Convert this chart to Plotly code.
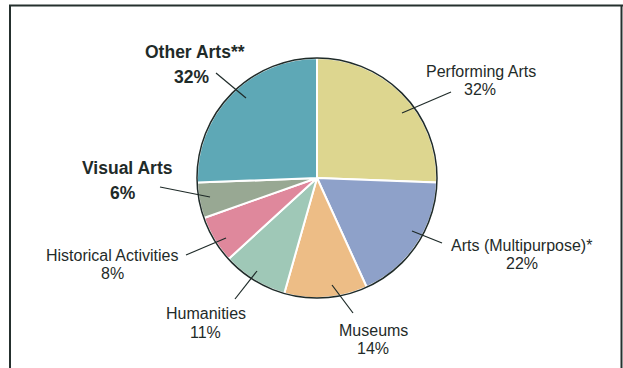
import plotly.graph_objects as go

# Funding share by discipline (percent labels as published)
categories = ["Performing Arts", "Arts (Multipurpose)*", "Museums", "Humanities",
              "Historical Activities", "Visual Arts", "Other Arts**"]
values = [32, 22, 14, 11, 8, 6, 32]
colors = ["#DDD68F", "#8EA1C9", "#EDBD86", "#9FC8B7", "#DF889C", "#98A893", "#5EA8B6"]
bold = [False, False, False, False, False, True, True]

W, H = 623, 368
CX, CY, R = 317, 178, 120
INK = "#1f2b29"


def px(x):
    return x / W


def py(y):
    return 1 - y / H


fig = go.Figure(go.Pie(
    labels=categories,
    values=values,
    sort=False,
    direction="clockwise",
    rotation=0,
    textinfo="none",
    hoverinfo="label+value",
    marker=dict(colors=colors, line=dict(color="white", width=2)),
    domain=dict(x=[px(CX - R), px(CX + R)], y=[py(CY + R), py(CY - R)]),
    showlegend=False,
))

shapes = [
    # outline of the pie
    dict(type="circle", xref="paper", yref="paper",
         x0=px(CX - R), x1=px(CX + R), y0=py(CY + R), y1=py(CY - R),
         line=dict(color=INK, width=1.5), layer="above"),
    # panel frame
    dict(type="line", xref="paper", yref="paper", x0=px(9), x1=px(623), y0=py(5.5), y1=py(5.5),
         line=dict(color="#25302e", width=2)),
    dict(type="line", xref="paper", yref="paper", x0=px(10), x1=px(10), y0=py(5), y1=py(368),
         line=dict(color="#25302e", width=2)),
    dict(type="line", xref="paper", yref="paper", x0=px(621.5), x1=px(621.5), y0=py(5), y1=py(368),
         line=dict(color="#25302e", width=2)),
]

# label placement: (name x, name y, pct x, pct y, leader outer, leader inner)
label_layout = [
    (481, 71, 480, 89, (451, 92), (402, 113)),
    (521, 245, 522, 263, (442, 243), (412, 231)),
    (373, 330, 373, 348, (353, 313), (332, 285)),
    (206, 313, 205, 332, (235, 299), (257, 271)),
    (112, 255, 112, 273, (186, 255), (226, 238)),
    (127, 168, 123, 193, (160, 187), (210, 197)),
    (195, 52, 191, 77, (216, 73), (246, 98)),
]

annotations = []
fam = "Liberation Sans Narrow, Arial Narrow, sans-serif"
for name, val, b, (nx, ny, vx, vy, p0, p1) in zip(categories, values, bold, label_layout):
    t_name = f"<b>{name}</b>" if b else name
    t_val = f"<b>{val}%</b>" if b else f"{val}%"
    size = 17.5 if b else 16
    annotations.append(dict(x=px(nx), y=py(ny), xref="paper", yref="paper", text=t_name,
                            showarrow=False, xanchor="center", yanchor="middle",
                            font=dict(family=fam, size=size, color=INK)))
    annotations.append(dict(x=px(vx), y=py(vy), xref="paper", yref="paper", text=t_val,
                            showarrow=False, xanchor="center", yanchor="middle",
                            font=dict(family=fam, size=size, color=INK)))
    shapes.append(dict(type="line", xref="paper", yref="paper",
                       x0=px(p0[0]), y0=py(p0[1]), x1=px(p1[0]), y1=py(p1[1]),
                       line=dict(color=INK, width=1.2), layer="above"))

fig.update_layout(
    width=W, height=H,
    margin=dict(l=0, r=0, t=0, b=0),
    paper_bgcolor="white",
    plot_bgcolor="white",
    shapes=shapes,
    annotations=annotations,
)

fig.write_html("out.html")
